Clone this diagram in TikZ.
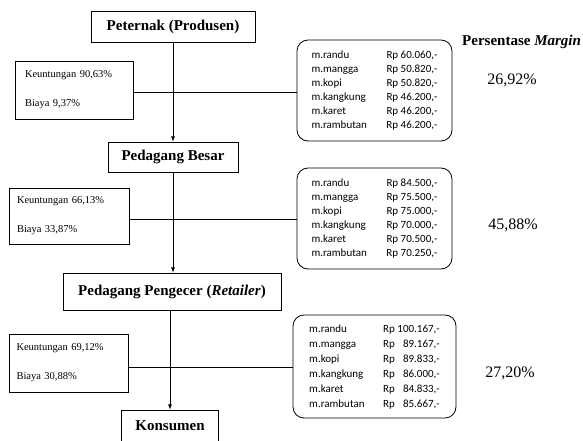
\documentclass[tikz,border=0pt]{standalone}
\usepackage{fontspec}
\setmainfont{Liberation Serif}
\newfontfamily\boxsans{Carlito}
\usepackage{array}
\begin{document}
\begin{tikzpicture}[x=1pt,y=-1pt,
  stage/.style={draw,thick,font=\fontsize{15}{17}\selectfont\bfseries,inner sep=0pt},
  share/.style={draw,thick,inner sep=0pt,align=left,font=\fontsize{10.5}{12}\selectfont},
  pricebox/.style={draw,thick,rounded corners=11pt,inner sep=0pt,font=\boxsans\fontsize{11}{14}\selectfont},
  pct/.style={font=\fontsize{16}{18}\selectfont},
  arr/.style={->,>=latex,thick},
  link/.style={thick}]
\useasboundingbox (0,0) rectangle (583,441);
\clip (0,0) rectangle (583,441);

% stages
\node[stage,minimum width=164pt,minimum height=31pt] (p1) at (173,26.5) {Peternak (Produsen)};
\node[stage,minimum width=130pt,minimum height=30pt] (p2) at (173,157) {Pedagang Besar};
\node[stage,minimum width=218pt,minimum height=37pt] (p3) at (172,291.5) {Pedagang Pengecer (\textit{Retailer})};
\node[stage,minimum width=97pt,minimum height=32pt] (p4) at (170,426) {Konsumen};

\draw[arr] (p1.south) -- (p2.north);
\draw[arr] (p2.south) -- (p2.south |- p3.north);
\draw[arr] (p3.south -| p4.north) -- (p4.north);

% share boxes
\node[share,minimum width=118pt,minimum height=58pt,text width=98pt] (k1) at (74,90)
  {Keuntungan 90,63\%\\[17pt]Biaya 9,37\%};
\node[share,minimum width=120pt,minimum height=56pt,text width=104pt] (k2) at (69,216)
  {Keuntungan 66,13\%\\[17pt]Biaya 33,87\%};
\node[share,minimum width=119pt,minimum height=58pt,text width=104pt] (k3) at (68.5,363)
  {Keuntungan 69,12\%\\[17pt]Biaya 30,88\%};

% price boxes
\node[pricebox,minimum width=155pt,minimum height=101pt] (r1) at (374.5,90.5)
  {\begin{tabular}{@{}p{75pt}@{}l@{}}
  m.randu & Rp 60.060,-\\ m.mangga & Rp 50.820,-\\ m.kopi & Rp 50.820,-\\
  m.kangkung & Rp 46.200,-\\ m.karet & Rp 46.200,-\\ m.rambutan & Rp 46.200,-
  \end{tabular}};
\node[pricebox,minimum width=155pt,minimum height=101pt] (r2) at (374.5,218.5)
  {\begin{tabular}{@{}p{75pt}@{}l@{}}
  m.randu & Rp 84.500,-\\ m.mangga & Rp 75.500,-\\ m.kopi & Rp 75.000,-\\
  m.kangkung & Rp 70.000,-\\ m.karet & Rp 70.500,-\\ m.rambutan & Rp 70.250,-
  \end{tabular}};
\node[pricebox,minimum width=163pt,minimum height=103pt] (r3) at (374.5,366.5)
  {\fontsize{11}{15}\selectfont\begin{tabular}{@{}p{74pt}@{}l@{\ }r@{}}
  m.randu & Rp & 100.167,-\\ m.mangga & Rp & 89.167,-\\ m.kopi & Rp & 89.833,-\\
  m.kangkung & Rp & 86.000,-\\ m.karet & Rp & 84.833,-\\ m.rambutan & Rp & 85.667,-
  \end{tabular}};

% connecting lines
\coordinate (h1) at (0,92);
\coordinate (h2) at (0,219);
\coordinate (h3) at (0,367);
\draw[link] (k1.east |- h1) -- (r1.west |- h1);
\draw[link] (k2.east |- h2) -- (r2.west |- h2);
\draw[link] (k3.east |- h3) -- (r3.west |- h3);

% margin column
\node[anchor=west,font=\fontsize{15}{17}\selectfont\bfseries,inner sep=0pt] (mh) at (462,42) {Persentase \textit{Margin}};
\node[pct] (m1) at (512,80) {26,92\%};
\node[pct] (m2) at (513,225) {45,88\%};
\node[pct] (m3) at (510,373) {27,20\%};
\end{tikzpicture}
\end{document}
